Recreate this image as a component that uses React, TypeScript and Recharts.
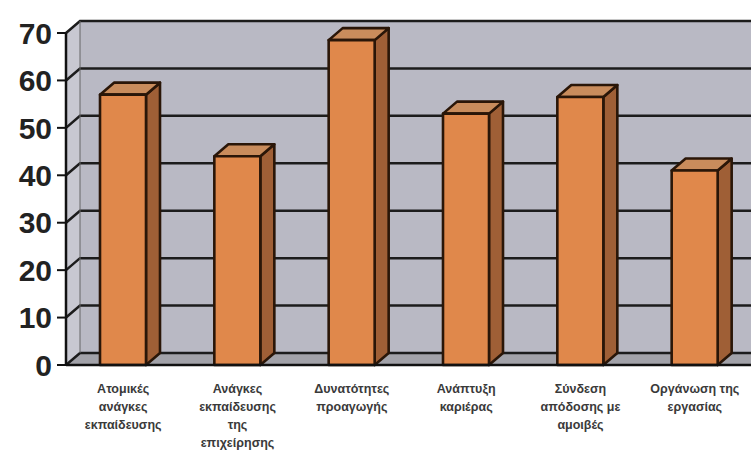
import { BarChart, Bar, XAxis, YAxis, ReferenceArea } from "recharts";

// Greek labels (multi-line, split on "|")
const categories = [
  "Ατομικές|ανάγκες|εκπαίδευσης",
  "Ανάγκες|εκπαίδευσης|της|επιχείρησης",
  "Δυνατότητες|προαγωγής",
  "Ανάπτυξη|καριέρας",
  "Σύνδεση|απόδοσης με|αμοιβές",
  "Οργάνωση της|εργασίας",
];
const values = [57, 44, 68.5, 53, 56.5, 41];
const yTicks = [0, 10, 20, 30, 40, 50, 60, 70];

const rows = categories.map((name, i) => ({ name, value: values[i] }));

// depth offset of the fake 3d
const DX = 14;
const DY = -12;
const ink = "#2a1608";

function Walls(props: any) {
  const { x, y, width, height } = props;
  const b = y + height;
  const r = x + width;
  const top = yTicks[yTicks.length - 1];
  return (
    <g>
      <polygon points={`${x},${y} ${x + DX},${y + DY} ${x + DX},${b + DY} ${x},${b}`} fill="#c8c8d1" />
      <rect x={x + DX} y={y + DY} width={width} height={height} fill="#b9b9c4" />
      <polygon points={`${x},${b} ${x + DX},${b + DY} ${r + DX},${b + DY} ${r},${b}`} fill="#a2a2a9" />
      {yTicks.map((t) => {
        const ly = y + height * (1 - t / top);
        return (
          <polyline
            key={t}
            points={`${x},${ly} ${x + DX},${ly + DY} ${r + DX},${ly + DY}`}
            fill="none"
            stroke="#1c1c1c"
            strokeWidth={2.5}
          />
        );
      })}
      <line x1={x + DX} y1={y + DY} x2={x + DX} y2={b + DY} stroke="#666" strokeWidth={1} />
    </g>
  );
}

function Bar3D(props: any) {
  const { x, y, width, height } = props;
  if (!height) return null;
  const r = x + width;
  const b = y + height;
  return (
    <g stroke={ink} strokeWidth={2.6} strokeLinejoin="round">
      <polygon points={`${r},${y} ${r + DX},${y + DY} ${r + DX},${b + DY} ${r},${b}`} fill="#9f5f36" />
      <polygon points={`${x},${y} ${x + DX},${y + DY} ${r + DX},${y + DY} ${r},${y}`} fill="#c98c5c" />
      <rect x={x} y={y} width={width} height={height} fill="#e0884b" />
    </g>
  );
}

function CatTick(props: any) {
  const { x, y, payload } = props;
  const lines = String(payload.value).split("|");
  return (
    <g transform={`translate(${x},${y})`}>
      {lines.map((l, i) => (
        <text
          key={i}
          x={0}
          y={20 + i * 18}
          textAnchor="middle"
          fill="#3a3a3a"
          fontSize={12.5}
          fontWeight="bold"
          fontFamily="Liberation Sans, Arial, sans-serif"
        >
          {l}
        </text>
      ))}
    </g>
  );
}

export default function App() {
  return (
    <div style={{ position: "absolute", left: 0, top: 0, width: 751, height: 453, overflow: "hidden", background: "#fff" }}>
      <BarChart
        width={760}
        height={453}
        data={rows}
        margin={{ top: 33, right: 8, bottom: 0, left: 6 }}
        barSize={46}
      >
        <ReferenceArea y1={0} y2={70} shape={<Walls />} ifOverflow="visible" />
        <XAxis
          dataKey="name"
          height={88}
          interval={0}
          tick={<CatTick />}
          tickLine={false}
          axisLine={{ stroke: "#111", strokeWidth: 2.5 }}
        />
        <YAxis
          domain={[0, 70]}
          ticks={yTicks}
          width={60}
          tickSize={9}
          tickMargin={5}
          tickLine={{ stroke: "#111", strokeWidth: 2 }}
          axisLine={{ stroke: "#111", strokeWidth: 2.5 }}
          tick={{ fill: "#222", fontSize: 30, fontWeight: "bold", fontFamily: "Liberation Sans, Arial, sans-serif" }}
        />
        <Bar dataKey="value" shape={<Bar3D />} isAnimationActive={false} />
      </BarChart>
    </div>
  );
}
